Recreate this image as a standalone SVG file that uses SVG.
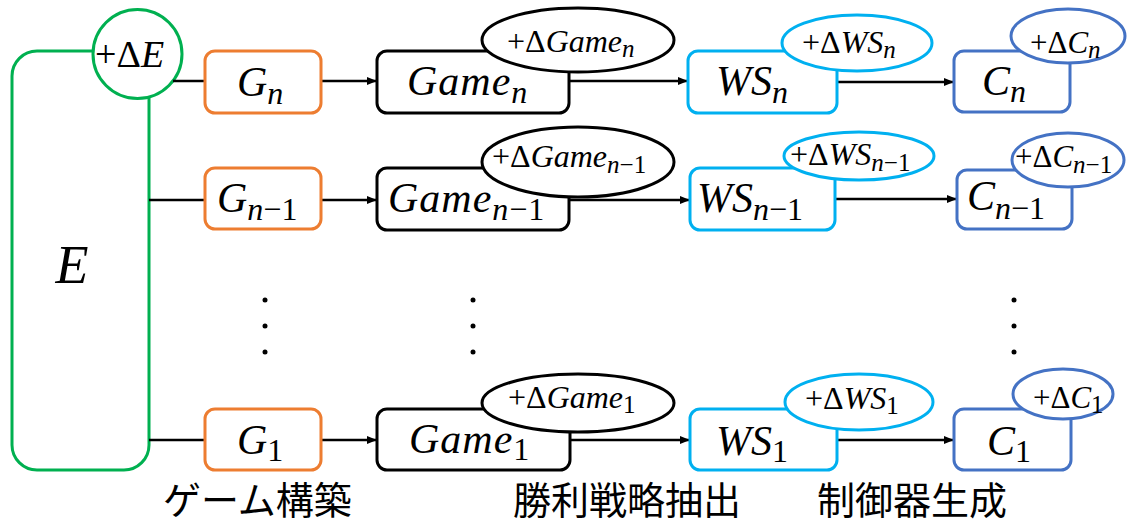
<svg xmlns="http://www.w3.org/2000/svg" width="1130" height="524" viewBox="0 0 1130 524">
<defs>
<style>
.box{fill:#fff;stroke-width:3}
.gr{stroke:#00B050}
.or{stroke:#ED7D31}
.bk{stroke:#000}
.lb{stroke:#00B0F0}
.bl{stroke:#4472C4}
.m{font-family:"Liberation Serif",serif;font-style:italic;font-size:42px;fill:#000}
.u{font-style:normal}
.s{font-size:32px}
.e{font-size:32px}
.ec{font-size:31px}
.es{font-size:25px}
.jp{font-family:"Noto Sans CJK JP",sans-serif;font-size:38px;fill:#000}
.ln{stroke:#000;stroke-width:2.5;fill:none}
.dot{fill:#000}
</style>
<marker id="ar" markerWidth="10" markerHeight="8" refX="10" refY="4" orient="auto" markerUnits="userSpaceOnUse">
<path d="M0,0 L10,4 L0,8 Z" fill="#000"/>
</marker>
</defs>

<g id="E">
<rect class="box gr" x="12" y="51" width="137" height="419" rx="25"/>
<text class="m" x="72" y="283" text-anchor="middle" style="font-size:54px">E</text>
</g>
<g id="dE">
<circle class="box gr" cx="137.5" cy="54" r="44.5"/>
<text class="m" x="95" y="67" style="font-size:38px"><tspan class="u">+Δ</tspan>E</text>
</g>

<g id="connectors">
<line class="ln" x1="173" y1="81" x2="205" y2="81"/>
<line class="ln" x1="149" y1="200" x2="205" y2="200"/>
<line class="ln" x1="149" y1="440" x2="205" y2="440"/>
<line class="ln" x1="321" y1="81" x2="377" y2="81" marker-end="url(#ar)"/>
<line class="ln" x1="569" y1="81" x2="688" y2="81" marker-end="url(#ar)"/>
<line class="ln" x1="837" y1="82" x2="954" y2="82" marker-end="url(#ar)"/>
<line class="ln" x1="321" y1="200" x2="377" y2="200" marker-end="url(#ar)"/>
<line class="ln" x1="569" y1="200" x2="690" y2="200" marker-end="url(#ar)"/>
<line class="ln" x1="835" y1="199" x2="957" y2="199" marker-end="url(#ar)"/>
<line class="ln" x1="321" y1="440" x2="377" y2="440" marker-end="url(#ar)"/>
<line class="ln" x1="570" y1="440" x2="690" y2="440" marker-end="url(#ar)"/>
<line class="ln" x1="837" y1="440" x2="954" y2="440" marker-end="url(#ar)"/>
</g>

<!-- Row n -->
<g id="Gn">
<rect class="box or" x="205" y="51" width="116" height="62" rx="10"/>
<text class="m" x="237" y="96">G<tspan class="s" dy="8">n</tspan></text>
</g>
<g id="Gamen">
<rect class="box bk" x="377" y="51" width="192" height="62" rx="10"/>
<text class="m" x="407" y="95" letter-spacing="1">Game<tspan class="s" dy="8">n</tspan></text>
</g>
<g id="dGamen">
<ellipse class="box bk" cx="578" cy="40" rx="96" ry="32"/>
<text class="m e" x="507" y="52"><tspan class="u">+Δ</tspan>Game<tspan class="es" dy="5">n</tspan></text>
</g>
<g id="WSn">
<rect class="box lb" x="688" y="51" width="149" height="62" rx="10"/>
<text class="m" x="716" y="95">WS<tspan class="s" dy="8">n</tspan></text>
</g>
<g id="dWSn">
<ellipse class="box lb" cx="857" cy="43" rx="75" ry="28"/>
<text class="m e" x="802" y="53"><tspan class="u">+Δ</tspan>WS<tspan class="es" dy="5">n</tspan></text>
</g>
<g id="Cn">
<rect class="box bl" x="954" y="51" width="116" height="61" rx="10"/>
<text class="m" x="982" y="95">C<tspan class="s" dy="7">n</tspan></text>
</g>
<g id="dCn">
<ellipse class="box bl" cx="1068" cy="36" rx="57" ry="27"/>
<text class="m ec" x="1030" y="53"><tspan class="u">+Δ</tspan>C<tspan class="es" dy="5">n</tspan></text>
</g>

<!-- Row n-1 -->
<g id="Gn1">
<rect class="box or" x="205" y="168" width="116" height="61" rx="10"/>
<text class="m" x="217" y="212">G<tspan class="s" dy="8">n</tspan><tspan class="s u">−1</tspan></text>
</g>
<g id="Gamen1">
<rect class="box bk" x="377" y="168" width="192" height="62" rx="10"/>
<text class="m" x="388" y="212" letter-spacing="1">Game<tspan class="s" dy="8">n</tspan><tspan class="s u">−1</tspan></text>
</g>
<g id="dGamen1">
<ellipse class="box bk" cx="578" cy="162" rx="96" ry="35"/>
<text class="m e" x="492" y="167"><tspan class="u">+Δ</tspan>Game<tspan class="es" dy="6">n</tspan><tspan class="es u">−1</tspan></text>
</g>
<g id="WSn1">
<rect class="box lb" x="690" y="168" width="145" height="62" rx="10"/>
<text class="m" x="697" y="212">WS<tspan class="s" dy="8">n</tspan><tspan class="s u">−1</tspan></text>
</g>
<g id="dWSn1">
<ellipse class="box lb" cx="859" cy="156" rx="75" ry="24"/>
<text class="m e" x="790" y="165"><tspan class="u">+Δ</tspan>WS<tspan class="es" dy="6">n</tspan><tspan class="es u">−1</tspan></text>
</g>
<g id="Cn1">
<rect class="box bl" x="957" y="170" width="115" height="59" rx="10"/>
<text class="m" x="967" y="210">C<tspan class="s" dy="9">n</tspan><tspan class="s u">−1</tspan></text>
</g>
<g id="dCn1">
<ellipse class="box bl" cx="1068" cy="160" rx="56" ry="27"/>
<text class="m ec" x="1015" y="167"><tspan class="u">+Δ</tspan>C<tspan class="es" dy="6">n</tspan><tspan class="es u">−1</tspan></text>
</g>

<!-- dots -->
<g id="dots">
<circle class="dot" cx="265" cy="300" r="2.5"/>
<circle class="dot" cx="265" cy="326" r="2.5"/>
<circle class="dot" cx="265" cy="352" r="2.5"/>
<circle class="dot" cx="473" cy="300" r="2.5"/>
<circle class="dot" cx="473" cy="326" r="2.5"/>
<circle class="dot" cx="473" cy="352" r="2.5"/>
<circle class="dot" cx="1014" cy="300" r="2.5"/>
<circle class="dot" cx="1014" cy="326" r="2.5"/>
<circle class="dot" cx="1014" cy="352" r="2.5"/>
</g>

<!-- Row 1 -->
<g id="G1">
<rect class="box or" x="205" y="409" width="116" height="61" rx="10"/>
<text class="m" x="237" y="454">G<tspan class="s u" dy="7">1</tspan></text>
</g>
<g id="Game1">
<rect class="box bk" x="377" y="409" width="193" height="61" rx="10"/>
<text class="m" x="409" y="453" letter-spacing="1">Game<tspan class="s u" dy="7">1</tspan></text>
</g>
<g id="dGame1">
<ellipse class="box bk" cx="578" cy="403" rx="96" ry="29"/>
<text class="m e" x="508" y="408"><tspan class="u">+Δ</tspan>Game<tspan class="es u" dy="5">1</tspan></text>
</g>
<g id="WS1">
<rect class="box lb" x="690" y="409" width="147" height="61" rx="10"/>
<text class="m" x="716" y="455">WS<tspan class="s u" dy="7">1</tspan></text>
</g>
<g id="dWS1">
<ellipse class="box lb" cx="859" cy="402" rx="74" ry="28"/>
<text class="m e" x="805" y="409"><tspan class="u">+Δ</tspan>WS<tspan class="es u" dy="5">1</tspan></text>
</g>
<g id="C1">
<rect class="box bl" x="954" y="409" width="117" height="61" rx="10"/>
<text class="m" x="987" y="455">C<tspan class="s u" dy="7">1</tspan></text>
</g>
<g id="dC1">
<ellipse class="box bl" cx="1063" cy="394" rx="50" ry="25"/>
<text class="m ec" x="1033" y="408"><tspan class="u">+Δ</tspan>C<tspan class="es u" dy="5">1</tspan></text>
</g>

<g id="labels">
<text class="jp" x="163" y="514">ゲーム構築</text>
<text class="jp" x="513" y="514">勝利戦略抽出</text>
<text class="jp" x="817" y="514">制御器生成</text>
</g>
</svg>
